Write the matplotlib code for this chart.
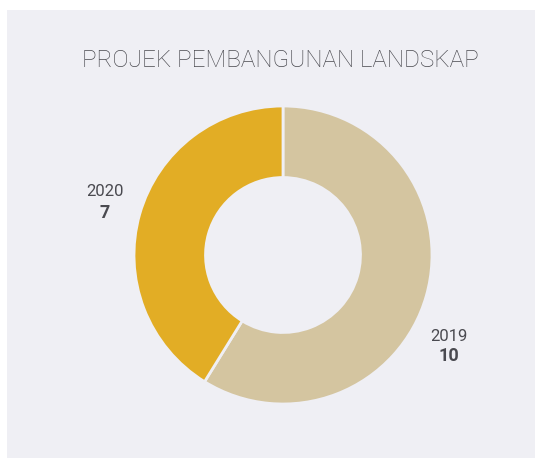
import matplotlib
matplotlib.use('Agg')
import matplotlib.pyplot as plt
from matplotlib.patches import Rectangle

# dane
lata = ['2019', '2020']
projek = [10, 7]
kolory = ['#d4c5a0', '#e2ad25']
tytul = 'PROJEK PEMBANGUNAN LANDSKAP'

W, H = 541, 461
tlo = '#efeff4'
tekst = '#4a4a50'

fig = plt.figure(figsize=(W / 100, H / 100), dpi=100)
fig.patch.set_facecolor('white')
fig.patches.append(Rectangle((7 / W, 3 / H), 528 / W, 448 / H,
                             transform=fig.transFigure, facecolor=tlo,
                             edgecolor='none', zorder=-1))

# donut: srodek (283, 255) px, promien 149 px
ax = fig.add_axes([134 / W, (H - 255 - 149) / H, 298 / W, 298 / H])
ax.set_zorder(1)
ax.pie(projek, colors=kolory, startangle=90, counterclock=False, radius=1,
       wedgeprops=dict(width=0.48, edgecolor=tlo, linewidth=2))
ax.set_xlim(-1, 1)
ax.set_ylim(-1, 1)
ax.set_aspect('equal')
ax.axis('off')

fig.text(280 / W, 1 - 60 / H, tytul, ha='center', va='center',
         fontsize=17.5, color=tekst, family='Roboto', fontweight='light')

etykiety = {'2020': (105, 191, 213), '2019': (449, 336, 356)}
for rok, wartosc in zip(lata, projek):
    x, y1, y2 = etykiety[rok]
    fig.text(x / W, 1 - y1 / H, rok, ha='center', va='center', fontsize=12,
             color=tekst, family='Roboto', fontweight='normal')
    fig.text(x / W, 1 - y2 / H, str(wartosc), ha='center', va='center',
             fontsize=13, color=tekst, family='Roboto', fontweight='bold')

fig.savefig('out.png', dpi=100, facecolor=fig.get_facecolor())
